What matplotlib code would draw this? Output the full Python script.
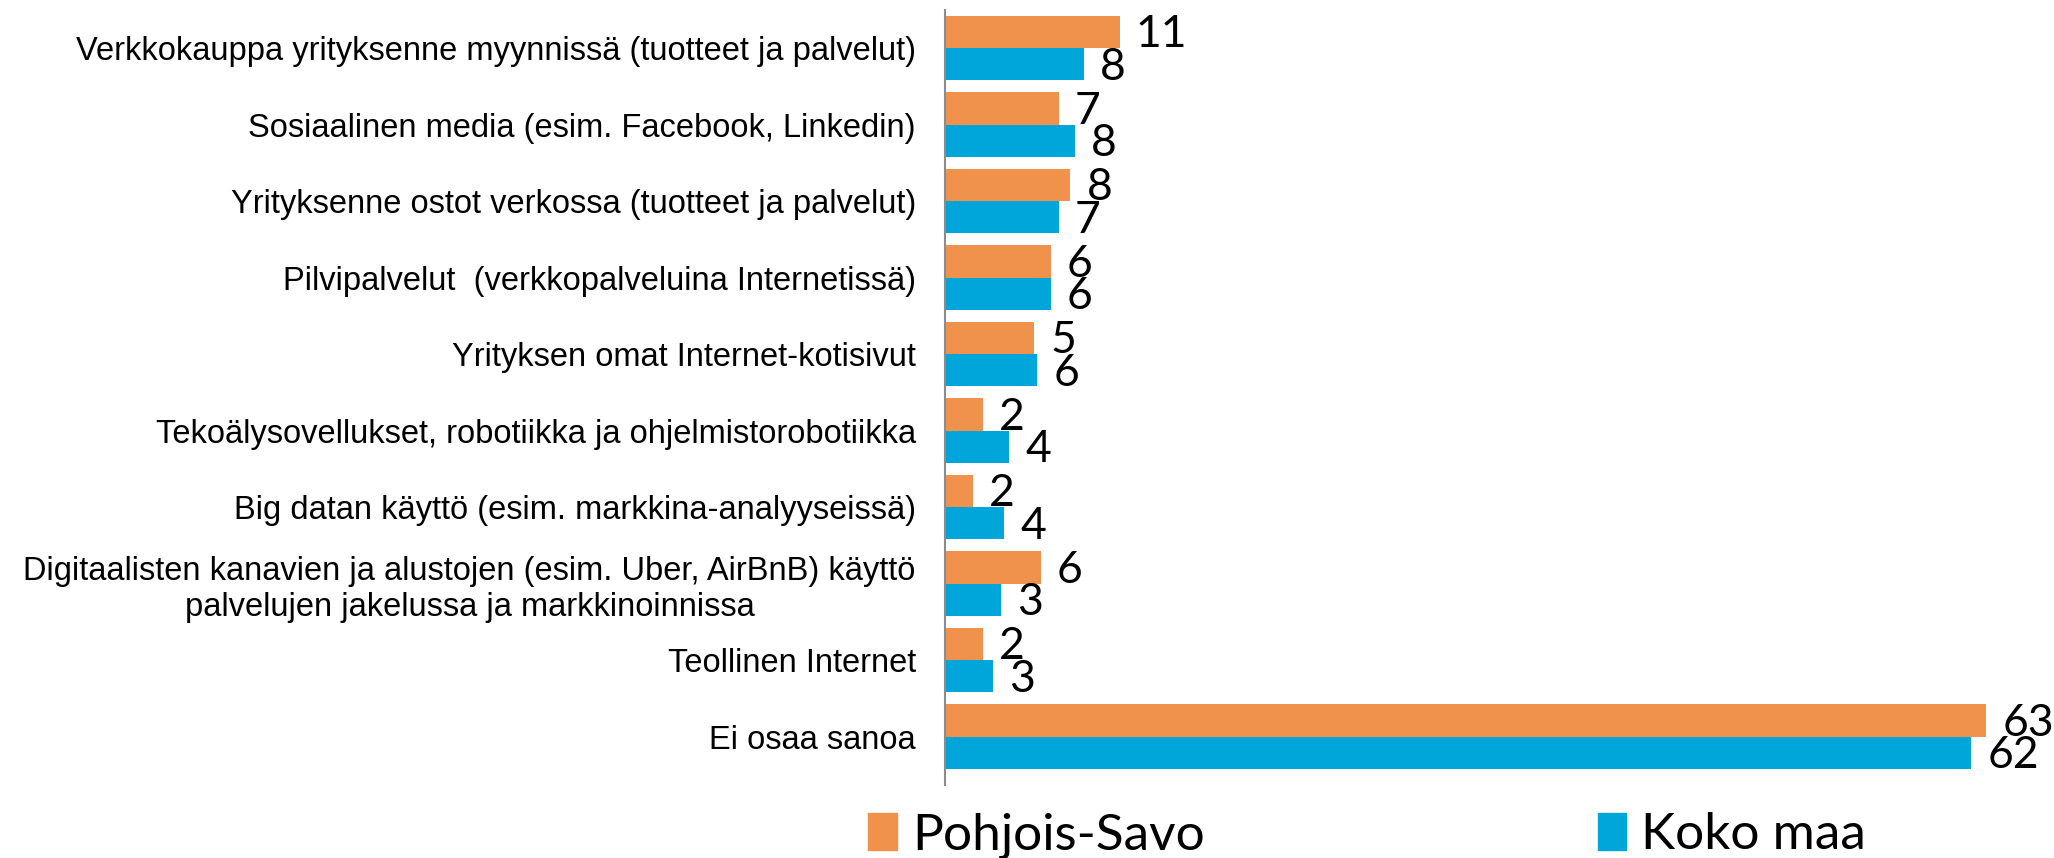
import numpy as np
import matplotlib.pyplot as plt
from matplotlib.patches import Patch

categories = [
    "Verkkokauppa yrityksenne myynnissä (tuotteet ja palvelut)",
    "Sosiaalinen media (esim. Facebook, Linkedin)",
    "Yrityksenne ostot verkossa (tuotteet ja palvelut)",
    "Pilvipalvelut  (verkkopalveluina Internetissä)",
    "Yrityksen omat Internet-kotisivut",
    "Tekoälysovellukset, robotiikka ja ohjelmistorobotiikka",
    "Big datan käyttö (esim. markkina-analyyseissä)",
    "Digitaalisten kanavien ja alustojen (esim. Uber, AirBnB) käyttö\npalvelujen jakelussa ja markkinoinnissa",
    "Teollinen Internet",
    "Ei osaa sanoa",
]
pohjois_savo = [10.6, 6.9, 7.6, 6.4, 5.4, 2.3, 1.7, 5.8, 2.3, 63.1]
koko_maa = [8.4, 7.9, 6.9, 6.4, 5.6, 3.9, 3.6, 3.4, 2.9, 62.2]
series_names = ["Pohjois-Savo", "Koko maa"]

orange = "#F0924B"
blue = "#00A5DA"

fig = plt.figure(figsize=(20.54, 8.58), dpi=100)
ax = fig.add_axes([945 / 2054, 73 / 858, 1109 / 2054, 775 / 858])

y = np.arange(len(categories))
h = 0.42
b1 = ax.barh(y - 0.21, pohjois_savo, height=h, color=orange, label=series_names[0])
b2 = ax.barh(y + 0.21, koko_maa, height=h, color=blue, label=series_names[1])

for bars, vals in ((b1, pohjois_savo), (b2, koko_maa)):
    for rect, v in zip(bars, vals):
        ax.annotate(
            f"{v:.0f}",
            (rect.get_width(), rect.get_y() + rect.get_height() / 2),
            xytext=(16, -3),
            textcoords="offset pixels",
            ha="left",
            va="center",
            fontsize=32,
            family="Lato",
        )

ax.set_xlim(0, 1109 / 16.5)
ax.set_ylim(9.634, -0.497)
ax.set_yticks(y)
ax.set_yticklabels(categories, fontsize=23.5, family="Liberation Sans", multialignment="center")
ax.set_xticks([])
ax.tick_params(axis="y", length=0, pad=21)
for s in ("top", "right", "bottom"):
    ax.spines[s].set_visible(False)
ax.spines["left"].set_color("#8c8c8c")
ax.spines["left"].set_linewidth(1.5)

handles = [Patch(color=orange), Patch(color=blue)]
fig.legend(
    handles,
    series_names,
    loc="lower left",
    bbox_to_anchor=(822 / 2054, -0.055),
    ncol=2,
    frameon=False,
    prop={"family": "Lato", "size": 37},
    handlelength=0.55,
    handleheight=0.75,
    handletextpad=0.3,
    columnspacing=7.65,
)

fig.savefig("out.png", dpi=100)
